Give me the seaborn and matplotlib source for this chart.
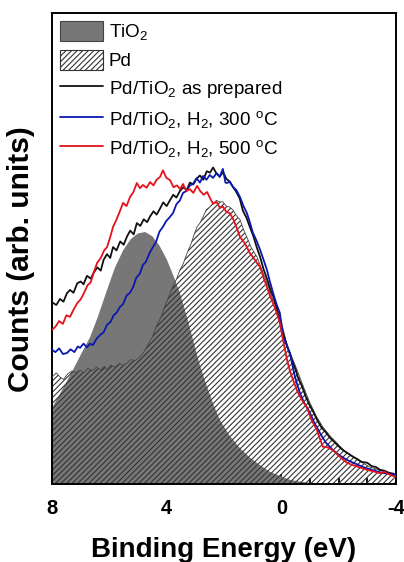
import numpy as np
import pandas as pd
import matplotlib
matplotlib.use("Agg")
import matplotlib.pyplot as plt
import seaborn as sns
from matplotlib.patches import Patch
from matplotlib.lines import Line2D

# ---------------- data ----------------
tio2_E = [8.0, 7.6, 7.27, 6.95, 6.67, 6.4, 6.08, 5.8, 5.52, 5.25, 5.0, 4.75, 4.5, 4.25,
          3.99, 3.75, 3.54, 3.3, 3.08, 2.85, 2.59, 2.35, 2.14, 1.8, 1.44, 1.1, 0.74, 0.4,
          0.05, -0.3, -0.65, -1.1, -1.7, -4.0]
tio2_v = [16.1, 20.5, 24.2, 28.0, 31.2, 35.5, 41.2, 46.0, 49.6, 52.0, 53.2, 53.5, 52.6, 50.6,
          47.6, 44.0, 40.6, 35.6, 30.6, 25.4, 20.6, 16.6, 13.6, 10.2, 7.6, 5.6, 4.0, 2.6,
          1.7, 0.9, 0.5, 0.2, 0.0, 0.0]

pd_E = [8.0, 7.85, 7.72, 7.6, 7.45, 7.3, 7.15, 7.02, 6.88, 6.75, 6.6, 6.45, 6.3, 6.18,
        6.08, 5.95, 5.8, 5.65, 5.52, 5.38, 5.25, 5.1, 4.93, 4.8, 4.65, 4.5, 4.35, 4.2,
        4.05, 3.9, 3.78, 3.65, 3.54, 3.42, 3.29, 3.15, 3.04, 2.94, 2.84, 2.73, 2.62, 2.5,
        2.38, 2.26, 2.14, 2.04, 1.92, 1.8, 1.69, 1.57, 1.44, 1.32, 1.2, 1.05, 0.85, 0.68,
        0.5, 0.32, 0.15, 0.0, -0.2, -0.38, -0.55, -0.78, -1.0, -1.22, -1.45, -1.7, -1.94,
        -2.2, -2.5, -2.8, -3.09, -3.4, -3.68, -4.0]
pd_v = [22.7, 23.6, 22.7, 22.2, 23.4, 24.0, 23.6, 24.2, 23.6, 24.6, 24.0, 24.8, 24.2, 25.0,
        24.2, 25.2, 24.8, 25.6, 25.2, 25.7, 26.4, 26.2, 27.0, 28.0, 29.6, 31.2, 33.6, 35.4,
        38.0, 40.2, 42.0, 43.6, 45.4, 46.8, 49.0, 51.0, 53.0, 54.6, 55.4, 56.7, 58.2, 58.8,
        59.6, 60.2, 59.9, 59.9, 59.0, 58.8, 58.2, 57.0, 56.1, 54.0, 52.4, 50.2, 48.2, 45.5,
        42.7, 39.5, 37.6, 34.5, 29.5, 26.8, 24.2, 20.5, 17.2, 14.4, 12.1, 10.2, 8.7,
        7.0, 5.7, 4.6, 3.6, 3.0, 2.5, 1.9]

prep_E = [8.0, 7.85, 7.72, 7.6, 7.48, 7.37, 7.25, 7.12, 7.0, 6.9, 6.78, 6.65, 6.55, 6.42,
          6.3, 6.2, 6.08, 5.97, 5.87, 5.75, 5.62, 5.5, 5.38, 5.27, 5.15, 5.04, 4.92, 4.8,
          4.68, 4.58, 4.46, 4.35, 4.23, 4.12, 4.0, 3.88, 3.77, 3.66, 3.54, 3.42, 3.3, 3.19,
          3.07, 2.96, 2.84, 2.72, 2.6, 2.49, 2.38, 2.27, 2.15, 2.03, 1.92, 1.8, 1.68, 1.57,
          1.45, 1.34, 1.22, 1.1, 0.98, 0.86, 0.74, 0.62, 0.5, 0.38, 0.26, 0.15, 0.03, -0.1,
          -0.22, -0.35, -0.48, -0.6, -0.72, -0.85, -0.98, -1.1, -1.25, -1.4, -1.55, -1.7,
          -1.85, -2.0, -2.15, -2.3, -2.5, -2.65, -2.8, -3.0, -3.15, -3.3, -3.45, -3.6,
          -3.75, -3.9, -4.0]
prep_v = [38.6, 38.0, 39.3, 38.7, 40.5, 41.2, 40.6, 42.6, 43.0, 42.4, 44.2, 43.6, 44.8, 46.0,
          45.3, 47.6, 48.8, 48.0, 50.3, 49.6, 51.5, 50.8, 52.6, 53.8, 53.0, 55.4, 54.8, 56.2,
          55.6, 56.8, 57.9, 57.2, 58.5, 59.8, 59.0, 60.3, 61.4, 60.8, 62.2, 63.0, 62.4, 64.0,
          63.6, 64.8, 65.5, 64.6, 66.4, 66.1, 67.2, 66.0, 65.3, 66.2, 64.8, 64.2, 63.0, 62.0,
          60.6, 58.0, 56.6, 54.6, 52.7, 50.3, 48.2, 45.6, 43.6, 41.2, 39.5, 37.0, 34.0, 31.2,
          29.0, 26.6, 24.6, 22.3, 20.8, 18.6, 16.8, 15.5, 13.6, 12.0, 11.0, 9.8,
          8.9, 8.0, 7.2, 6.6, 5.8, 5.3, 4.7, 4.5, 3.8, 3.6, 3.0, 2.8,
          2.4, 2.2, 1.9]

h300_E = [8.0, 7.88, 7.75, 7.62, 7.48, 7.35, 7.22, 7.1, 7.02, 6.9, 6.78, 6.67, 6.57, 6.45,
          6.33, 6.2, 6.08, 5.96, 5.85, 5.74, 5.63, 5.52, 5.4, 5.28, 5.17, 5.06, 4.94, 4.83,
          4.72, 4.6, 4.48, 4.37, 4.25, 4.13, 4.02, 3.9, 3.78, 3.66, 3.54, 3.43, 3.31, 3.19,
          3.08, 2.96, 2.84, 2.73, 2.61, 2.5, 2.38, 2.26, 2.15, 2.04, 1.95, 1.9, 1.8, 1.69,
          1.57, 1.44, 1.32, 1.2, 1.1, 0.99, 0.86, 0.74, 0.62, 0.5, 0.4, 0.29, 0.17, 0.05,
          -0.06, -0.18, -0.3, -0.45, -0.55, -0.65, -0.8, -1.0, -1.15, -1.35, -1.55, -1.8,
          -2.05, -2.29, -2.55, -2.85, -3.15, -3.44, -3.7, -4.0]
h300_v = [28.5, 28.0, 28.8, 27.6, 27.8, 28.6, 28.0, 29.2, 28.9, 29.8, 29.0, 29.8, 29.5, 30.8,
          31.6, 32.2, 33.8, 34.4, 35.8, 36.4, 37.6, 38.2, 40.0, 40.6, 41.8, 43.8, 44.6, 46.5,
          47.2, 49.0, 50.3, 51.4, 53.6, 54.6, 55.8, 56.6, 57.5, 59.4, 60.2, 61.8, 62.2, 63.4,
          63.7, 64.9, 64.0, 65.4, 64.6, 65.6, 65.0, 66.0, 65.2, 66.9, 64.0, 63.9, 64.2, 63.1,
          62.4, 60.9, 59.0, 57.5, 55.6, 53.3, 51.6, 49.7, 47.6, 45.4, 43.0, 40.6, 38.2, 36.3,
          31.2, 29.6, 27.8, 23.4, 21.2, 19.3, 17.2, 15.1, 13.0, 10.8, 8.8, 7.2,
          6.0, 5.1, 4.4, 3.6, 3.0, 2.5, 2.2, 1.9]

h500_E = [8.0, 7.88, 7.75, 7.62, 7.5, 7.37, 7.25, 7.12, 7.0, 6.88, 6.76, 6.65, 6.54, 6.43,
          6.3, 6.18, 6.08, 5.97, 5.87, 5.76, 5.64, 5.52, 5.4, 5.28, 5.16, 5.04, 4.93, 4.83,
          4.7, 4.58, 4.46, 4.35, 4.23, 4.13, 4.01, 3.88, 3.76, 3.64, 3.53, 3.43, 3.31, 3.19,
          3.07, 2.94, 2.83, 2.71, 2.59, 2.48, 2.38, 2.26, 2.14, 2.04, 1.92, 1.8, 1.69, 1.57,
          1.44, 1.32, 1.2, 1.1, 0.99, 0.86, 0.74, 0.62, 0.5, 0.4, 0.29, 0.17, 0.05, -0.07,
          -0.2, -0.3, -0.41, -0.55, -0.7, -0.89, -1.05, -1.24, -1.35, -1.45, -1.6, -1.8,
          -2.0, -2.15, -2.29, -2.5, -2.7, -2.99, -3.2, -3.44, -3.6, -3.8, -4.0]
h500_v = [32.7, 33.4, 34.6, 34.0, 35.8, 35.5, 37.0, 38.4, 39.2, 40.6, 42.2, 42.8, 45.0, 46.9,
          48.0, 49.6, 50.3, 52.4, 54.6, 56.0, 57.8, 59.7, 59.0, 60.9, 62.0, 63.9, 62.8, 63.5,
          62.9, 64.1, 63.4, 64.6, 65.2, 66.6, 65.0, 64.5, 63.0, 63.4, 62.6, 63.7, 62.2, 62.6,
          61.8, 63.3, 62.2, 61.4, 62.0, 60.6, 59.5, 59.9, 58.6, 58.9, 57.8, 57.5, 56.4, 54.6,
          52.4, 51.5, 50.3, 49.0, 48.2, 47.0, 46.1, 43.8, 41.8, 40.0, 38.4, 36.5, 34.2, 30.2,
          26.3, 24.0, 22.1, 19.8, 18.0, 16.3, 13.6, 11.5, 9.5, 7.9, 7.8, 7.2,
          6.0, 5.2, 4.5, 4.0, 3.6, 3.0, 2.7, 2.3, 2.6, 1.9, 1.5]

x_ticks = [8, 4, 0, -4]
x_tick_labels = ["8", "4", "0", "-4"]
labels = ["TiO$_2$", "Pd", "Pd/TiO$_2$ as prepared",
          "Pd/TiO$_2$, H$_2$, 300 $^{o}$C", "Pd/TiO$_2$, H$_2$, 500 $^{o}$C"]

# ---------------- style ----------------
sns.set_style("ticks")
plt.rcParams["font.family"] = ["Liberation Sans", "DejaVu Sans"]
plt.rcParams["mathtext.fontset"] = "custom"
plt.rcParams["mathtext.rm"] = "Liberation Sans"
plt.rcParams["mathtext.it"] = "Liberation Sans:italic"
plt.rcParams["mathtext.bf"] = "Liberation Sans:bold"
plt.rcParams["mathtext.default"] = "regular"
plt.rcParams["hatch.linewidth"] = 0.8
for k in ["text.color", "axes.labelcolor", "xtick.color", "ytick.color", "axes.edgecolor"]:
    plt.rcParams[k] = "black"

C_GRAY = "#777777"
C_HATCH = "#333333"
C_BLACK = "#111111"
C_BLUE = "#0a18b0"
C_RED = "#e3121b"

fig = plt.figure(figsize=(4.04, 5.62), dpi=100)
ax = fig.add_axes([52 / 404, 1 - 484 / 562, 344 / 404, 471 / 562])

# TiO2 filled
ax.fill_between(tio2_E, 0, tio2_v, facecolor=C_GRAY, edgecolor="none", linewidth=0, zorder=1)
# Pd hatched (transparent face)
ax.fill_between(pd_E, 0, pd_v, facecolor="none", edgecolor=C_HATCH, hatch="//////",
                linewidth=0, zorder=2)
ax.plot(pd_E, pd_v, color="#444444", lw=0.6, zorder=3)

df = pd.concat([
    pd.DataFrame({"E": prep_E, "v": prep_v, "s": labels[2]}),
    pd.DataFrame({"E": h300_E, "v": h300_v, "s": labels[3]}),
    pd.DataFrame({"E": h500_E, "v": h500_v, "s": labels[4]}),
])
sns.lineplot(data=df, x="E", y="v", hue="s", sort=False, estimator=None,
             palette={labels[2]: C_BLACK, labels[3]: C_BLUE, labels[4]: C_RED},
             linewidth=1.3, legend=False, ax=ax, zorder=4)

ax.set_xlim(8, -4)
ax.set_ylim(0, 100)
ax.set_xticks(x_ticks)
ax.set_xticklabels(x_tick_labels, fontweight="bold", fontsize=14.5)
ax.set_xticks([7, 6, 5, 3, 2, 1, -1, -2, -3], minor=True)
ax.set_yticks([])
ax.tick_params(axis="x", which="major", direction="in", length=7, width=1.3, pad=11)
ax.tick_params(axis="x", which="minor", direction="in", length=4, width=1.3)
for sp in ax.spines.values():
    sp.set_linewidth(1.4)
    sp.set_color("black")

ax.set_xlabel("Binding Energy (eV)", fontweight="bold", fontsize=20, labelpad=13.5)
ax.set_ylabel("Counts (arb. units)", fontweight="bold", fontsize=21.5)
ax.yaxis.set_label_coords(-0.05, 0.478)

handles = [
    Patch(facecolor=C_GRAY, edgecolor="#444444", linewidth=0.8),
    Patch(facecolor="white", edgecolor=C_HATCH, hatch="//////", linewidth=0.8),
    Line2D([], [], color=C_BLACK, lw=1.3),
    Line2D([], [], color=C_BLUE, lw=1.3),
    Line2D([], [], color=C_RED, lw=1.3),
]
ax.legend(handles, labels, loc="upper left", frameon=False, fontsize=13.6,
          handlelength=2.3, handleheight=1.25, handletextpad=0.3, labelspacing=0.42,
          borderaxespad=0.2, borderpad=0.2)

fig.savefig("out.png", dpi=100)
